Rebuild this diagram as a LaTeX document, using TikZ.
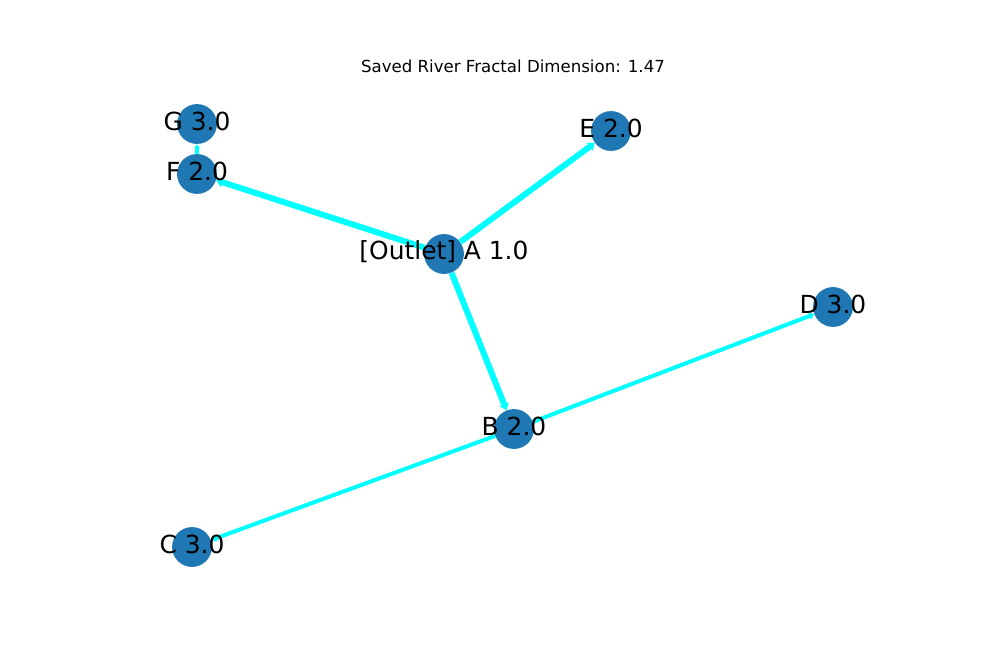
\documentclass[tikz,border=0pt]{standalone}
\usepackage{fontspec}
\setmainfont{DejaVu Sans}
\usetikzlibrary{arrows.meta,backgrounds}
\definecolor{nodeblue}{HTML}{1F77B4}
\definecolor{rivercyan}{HTML}{00FFFF}
\tikzset{
	station/.style={circle,fill=nodeblue,minimum size=28.8pt,inner sep=0pt},
	flow/.style={draw=rivercyan,line width=#1,-{Triangle[length=1.2pt 0.8,width=1pt 1.4]}},
	flowlabel/.style={font=\fontsize{18}{21}\selectfont,yshift=1.5pt}
}

\begin{document}
\begin{tikzpicture}[x=0.0254cm,y=-0.0254cm]
		%%%%% START %%%%%
		\useasboundingbox (0,0) rectangle (1000,665);
		
		\node[font=\fontsize{12}{14}\selectfont] (title) at (513,66) {Saved River Fractal Dimension: 1.47};
		
		\node[station,label={[flowlabel]center:[Outlet] A 1.0}] (A) at (444,254) {};
		\node[station,label={[flowlabel]center:B 2.0}] (B) at (514,429) {};
		\node[station,label={[flowlabel]center:C 3.0}] (C) at (192,547) {};
		\node[station,label={[flowlabel]center:D 3.0}] (D) at (833,307) {};
		\node[station,label={[flowlabel]center:E 2.0}] (E) at (611,131) {};
		\node[station,label={[flowlabel]center:F 2.0}] (F) at (197,174) {};
		\node[station,label={[flowlabel]center:G 3.0}] (G) at (197,124) {};
		
		\begin{scope}[on background layer]
			\draw[flow=4.3pt] (A) -- (F);
			\draw[flow=4.3pt] (A) -- (E);
			\draw[flow=4.3pt] (A) -- (B);
			\draw[flow=2.9pt] (B) -- (C);
			\draw[flow=2.9pt] (B) -- (D);
			\draw[flow=2.2pt] (F) -- (G);
		\end{scope}
		%%%%% END %%%%%
	\end{tikzpicture}
\end{document}
